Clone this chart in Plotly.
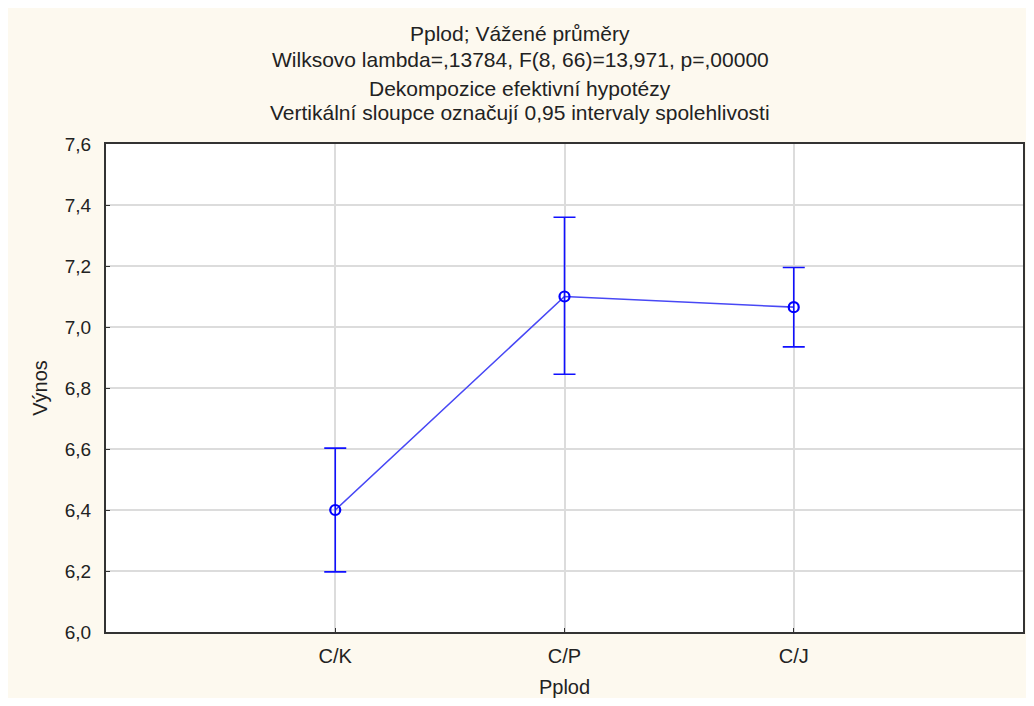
import plotly.graph_objects as go

categories = ["C/K", "C/P", "C/J"]
means = [6.40, 7.10, 7.065]
upper = [6.603, 7.36, 7.195]
lower = [6.197, 6.845, 6.935]

title_lines = [
    "Pplod; Vážené průměry",
    "Wilksovo lambda=,13784, F(8, 66)=13,971, p=,00000",
    "Dekompozice efektivní hypotézy",
    "Vertikální sloupce označují 0,95 intervaly spolehlivosti",
]
y_ticks = [6.0, 6.2, 6.4, 6.6, 6.8, 7.0, 7.2, 7.4, 7.6]
y_ticktext = [f"{v:.1f}".replace(".", ",") for v in y_ticks]

err_plus = [u - m for u, m in zip(upper, means)]
err_minus = [m - l for m, l in zip(means, lower)]

# page body has an 8px margin on every side; figure sized so the page fits exactly
W, H = 1018, 690
L, R, T, B = 98, 1, 136, 66
OFF = 8
plot_left, plot_top = OFF + L, OFF + T
plot_w, plot_h = W - L - R, H - T - B

fig = go.Figure()
fig.add_trace(go.Scatter(
    x=categories, y=means, mode="lines",
    line=dict(color="#4848f5", width=1.6),
    hoverinfo="skip", showlegend=False,
))
fig.add_trace(go.Scatter(
    x=categories, y=means, mode="markers",
    marker=dict(symbol="circle-open", size=10, color="#0000ff",
                line=dict(width=2.2, color="#0000ff")),
    error_y=dict(type="data", symmetric=False, array=err_plus,
                 arrayminus=err_minus, color="#1010ff",
                 thickness=1.6, width=11),
    showlegend=False,
))

line_centers_px = [34, 60, 88, 113]
for txt, py in zip(title_lines, line_centers_px):
    fig.add_annotation(
        text=txt, showarrow=False,
        xref="paper", yref="paper",
        x=(521 - plot_left) / plot_w, xanchor="center",
        y=(plot_top + plot_h - py) / plot_h, yanchor="middle",
        font=dict(size=21, color="#222222"),
    )

fig.update_layout(
    width=W, height=H,
    margin=dict(l=L, r=R, t=T, b=B),
    paper_bgcolor="#fdf9ef",
    plot_bgcolor="white",
    font=dict(family="Liberation Sans, Arial, sans-serif", size=20, color="#222222"),
)
fig.update_xaxes(
    type="category", range=[-1, 3],
    showgrid=True, gridcolor="#dcdcdc", gridwidth=1.5,
    showline=True, linecolor="#333333", linewidth=2, mirror=True,
    ticks="inside", ticklen=4, tickcolor="#333333",
    ticklabelstandoff=5,
    tickfont=dict(size=20),
    title=dict(text="Pplod", font=dict(size=20), standoff=16),
    zeroline=False,
)
fig.update_yaxes(
    range=[6.0, 7.6], tickvals=y_ticks, ticktext=y_ticktext,
    showgrid=True, gridcolor="#dcdcdc", gridwidth=1.5,
    showline=True, linecolor="#333333", linewidth=2, mirror=True,
    ticks="inside", ticklen=4, tickcolor="#333333",
    ticklabelstandoff=9,
    tickfont=dict(size=19),
    title=dict(text="Výnos", font=dict(size=20), standoff=12),
    zeroline=False,
)

fig.write_html("out.html")
